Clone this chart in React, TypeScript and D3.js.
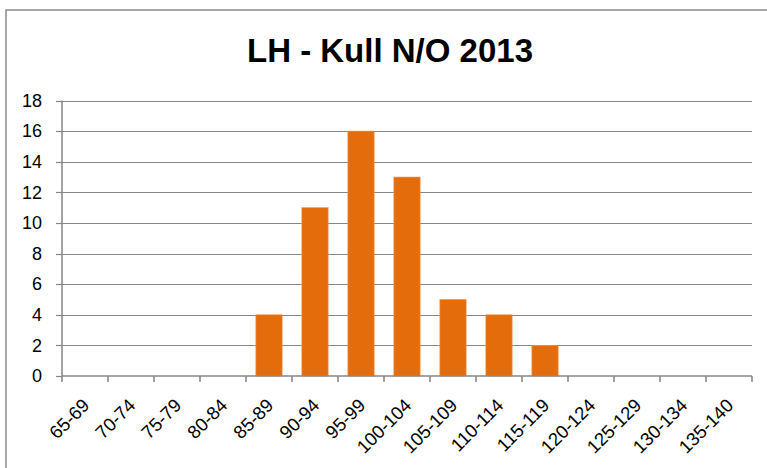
import React from "react";
import * as d3 from "d3";

const categories = ["65-69","70-74","75-79","80-84","85-89","90-94","95-99","100-104","105-109","110-114","115-119","120-124","125-129","130-134","135-140"];
const counts = [0,0,0,0,4,11,16,13,5,4,2,0,0,0,0];
const yTicks = [0,2,4,6,8,10,12,14,16,18];
const title = "LH - Kull N/O 2013";

const W = 767, H = 468;
const plot = { left: 62, right: 752, top: 100.5, bottom: 376 };
const FONT = "'Liberation Sans', Arial, sans-serif";
const BAR = "#E46C0A";
const GRID = "#868686";

export default function App() {
  const x = d3.scaleBand<string>().domain(categories).range([plot.left, plot.right]).paddingInner(0.4286).paddingOuter(0.2143);
  const xb = d3.scaleBand<string>().domain(categories).range([plot.left, plot.right]);
  const y = d3.scaleLinear().domain([0, 18]).range([plot.bottom, plot.top]);
  const boundaries = d3.range(categories.length + 1).map(i => plot.left + i * xb.step());
  return (
    <svg width={W} height={H} style={{ position: "absolute", left: 0, top: 0, background: "#fff" }}>
      <rect x={6} y={10} width={770} height={470} fill="#fff" stroke="#8c8c8c" strokeWidth={1.5} />
      <text x={390} y={62} textAnchor="middle" fontFamily={FONT} fontWeight="bold" fontSize={33} fill="#000">{title}</text>
      {yTicks.map(t => (
        <g key={t}>
          {t > 0 && <line x1={plot.left} x2={plot.right} y1={Math.round(y(t)) + 0.5} y2={Math.round(y(t)) + 0.5} stroke={GRID} strokeWidth={1.2} />}
          <line x1={plot.left - 6} x2={plot.left} y1={Math.round(y(t)) + 0.5} y2={Math.round(y(t)) + 0.5} stroke={GRID} strokeWidth={1.2} />
          <text x={42} y={y(t)} dy="0.35em" textAnchor="end" fontFamily={FONT} fontSize={18} fill="#000">{t}</text>
        </g>
      ))}
      {categories.map((c, i) => (
        counts[i] > 0 ? (
          <rect key={c} x={x(c)} y={y(counts[i])} width={x.bandwidth()} height={y(0) - y(counts[i])} fill={BAR} stroke="#F09A5A" strokeWidth={0.6} />
        ) : null
      ))}
      <line x1={plot.left} x2={plot.left} y1={plot.top} y2={plot.bottom} stroke={GRID} strokeWidth={1.5} />
      <line x1={plot.left} x2={plot.right} y1={plot.bottom} y2={plot.bottom} stroke={GRID} strokeWidth={1.5} />
      {boundaries.map((b, i) => (
        <line key={i} x1={b} x2={b} y1={plot.bottom} y2={plot.bottom + 6} stroke={GRID} strokeWidth={1.5} />
      ))}
      {categories.map(c => {
        const cx = (xb(c) as number) + xb.bandwidth() / 2;
        return (
          <text key={c} transform={`translate(${cx + 1},${plot.bottom + 26}) rotate(-45)`} textAnchor="end" dy="0.35em" fontFamily={FONT} fontSize={18.5} fill="#000">{c}</text>
        );
      })}
    </svg>
  );
}
